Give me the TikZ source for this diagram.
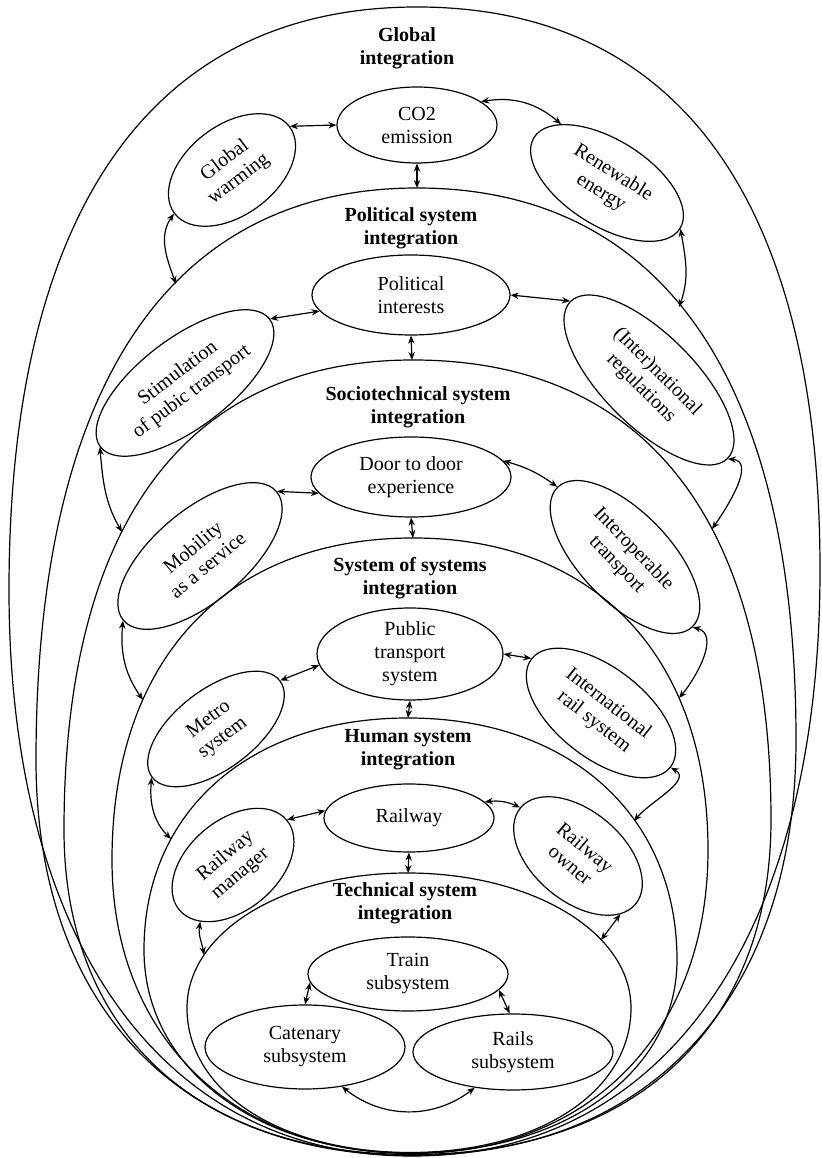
\documentclass[tikz,border=0pt]{standalone}
\usepackage{fontspec}
\setmainfont{Liberation Serif}
\usetikzlibrary{arrows.meta, shapes.geometric}

\begin{document}
\begin{tikzpicture}[x=0.5pt, y=0.5pt,
  txt/.style={font=\fontsize{10}{11.5}\selectfont, align=center},
  level/.style={font=\fontsize{10}{11.5}\selectfont\bfseries, align=center},
  blob/.style={txt, draw, ellipse, line width=0.6pt, inner sep=0pt},
  shell/.style={line width=0.6pt},
  link/.style={{Stealth[length=4pt,width=3.2pt]}-{Stealth[length=4pt,width=3.2pt]}, line width=0.6pt}]

  \useasboundingbox (0,0) rectangle (822,1158);

  % --- Nested integration levels (egg shells) ---
  \draw[shell] (417,1151) .. controls (152,1151) and (9,947) .. (9,568)
    .. controls (9,217) and (162,2) .. (412,2)
    .. controls (666,2) and (820,225) .. (820,588)
    .. controls (820,954) and (680,1151) .. (417,1151);
  \draw[shell] (417,970) .. controls (169,970) and (36,770) .. (36,398)
    .. controls (36,153) and (179,2.5) .. (412,2.5)
    .. controls (650,2.5) and (796,160) .. (796,418)
    .. controls (796,777) and (663,970) .. (417,970);
  \draw[shell] (413,798) .. controls (186,798) and (64,634) .. (64,328)
    .. controls (64,127) and (196,3.5) .. (412,3.5)
    .. controls (635,3.5) and (771,131) .. (771,338)
    .. controls (771,637) and (646,798) .. (413,798);
  \draw[shell] (413,620) .. controls (226,620) and (112,498) .. (112,298)
    .. controls (112,122) and (232,4.5) .. (412,4.5)
    .. controls (590,4.5) and (708,126) .. (708,308)
    .. controls (708,501) and (596,620) .. (413,620);
  \draw[shell] (408,440) .. controls (250,440) and (144,347) .. (144,208)
    .. controls (144,90) and (256,5) .. (411,5)
    .. controls (565,5) and (677,86) .. (677,198)
    .. controls (677,343) and (569,440) .. (408,440);
  \draw[shell] (407,285) .. controls (284,285) and (187,226) .. (187,150)
    .. controls (187,66) and (281,5.5) .. (410,5.5)
    .. controls (538,5.5) and (631,66) .. (631,150)
    .. controls (631,226) and (532,285) .. (407,285);

  % points where links meet the shells
  \coordinate (poltop) at (417,970);
  \coordinate (polL) at (176,874);
  \coordinate (polR) at (679,851);
  \coordinate (soctop) at (412,798);
  \coordinate (socL) at (122,626);
  \coordinate (socR) at (712,629);
  \coordinate (sostop) at (413,620);
  \coordinate (sosL) at (143,458);
  \coordinate (sosR) at (679,460);
  \coordinate (humtop) at (408,440);
  \coordinate (humL) at (171,319);
  \coordinate (humR) at (634,337);
  \coordinate (techtop) at (408,285);
  \coordinate (techL) at (204,203);
  \coordinate (techR) at (601,218);

  % --- Global integration ---
  \node[level] (globlab) at (407,1110) {Global\\integration};
  \node[blob, minimum width=80pt, minimum height=38pt] (co2) at (417,1033) {CO2\\emission};
  \node[blob, minimum width=72pt, minimum height=45pt, rotate=37] (warming) at (232,988) {Global\\warming};
  \node[blob, minimum width=86pt, minimum height=43pt, rotate=-32] (renew) at (607,975) {Renewable\\energy};
  \draw[link] (warming.east) -- (co2.west);
  \draw[link] (co2.20) to[bend left=25] (renew.160);
  \draw[link] (co2.south) -- (poltop);
  \draw[link] (warming.west) to[out=235, in=110] (polL);
  \draw[link] (renew.east) to[out=-80, in=70] (polR);

  % --- Political system integration ---
  \node[level] (pollab) at (411,930) {Political system\\integration};
  \node[blob, minimum width=99pt, minimum height=40pt] (polint) at (411,863) {Political\\interests};
  \node[blob, minimum width=106pt, minimum height=45pt, rotate=37] (stim) at (185,775) {Stimulation\\of pubic transport};
  \node[blob, minimum width=111pt, minimum height=46pt, rotate=-45] (regs) at (649,778) {(Inter)national\\regulations};
  \draw[link] (stim.east) -- (polint.190);
  \draw[link] (polint.east) -- (regs.west);
  \draw[link] (polint.south) -- (soctop);
  \draw[link] (stim.west) to[out=-85, in=120] (socL);
  \draw[link] (regs.east) to[out=-5, in=55] (socR);

  % --- Sociotechnical system integration ---
  \node[level] (soclab) at (418,751) {Sociotechnical system\\integration};
  \node[blob, minimum width=100pt, minimum height=40pt] (door) at (411,681) {Door to door\\experience};
  \node[blob, minimum width=100pt, minimum height=46pt, rotate=40] (maas) at (200,602) {Mobility\\as a service};
  \node[blob, minimum width=97pt, minimum height=45pt, rotate=-46] (interop) at (625,601) {Interoperable\\transport};
  \draw[link] (maas.east) -- (door.190);
  \draw[link] (door.10) to[bend left=10] (interop.west);
  \draw[link] (door.south) -- (sostop);
  \draw[link] (maas.west) to[out=-95, in=125] (sosL);
  \draw[link] (interop.east) to[out=-15, in=50] (sosR);

  % --- System of systems integration ---
  \node[level] (soslab) at (410,580) {System of systems\\integration};
  \node[blob, minimum width=93pt, minimum height=46pt] (ptrans) at (410,504) {Public\\transport\\system};
  \node[blob, minimum width=80pt, minimum height=40pt, rotate=37] (metro) at (216,429) {Metro\\system};
  \node[blob, minimum width=88pt, minimum height=45pt, rotate=-38] (intrail) at (601,445) {International\\rail system};
  \draw[link] (metro.east) -- (ptrans.187);
  \draw[link] (ptrans.east) -- (intrail.west);
  \draw[link] (ptrans.south) -- (humtop);
  \draw[link] (metro.west) to[out=-95, in=135] (humL);
  \draw[link] (intrail.east) to[out=-30, in=50] (humR);

  % --- Human system integration ---
  \node[level] (humlab) at (408,408) {Human system\\integration};
  \node[blob, minimum width=85pt, minimum height=34pt] (railway) at (409,340) {Railway};
  \node[blob, minimum width=70pt, minimum height=45pt, rotate=40] (manager) at (233,293) {Railway\\manager};
  \node[blob, minimum width=75pt, minimum height=45pt, rotate=-40] (owner) at (578,302) {Railway\\owner};
  \draw[link] (manager.east) -- (railway.175);
  \draw[link] (railway.12) to[bend left=15] (owner.west);
  \draw[link] (railway.south) -- (techtop);
  \draw[link] (manager.200) to[out=-100, in=100] (techL);
  \draw[link] (owner.346) -- (techR);

  % --- Technical system integration ---
  \node[level] (techlab) at (405,255) {Technical system\\integration};
  \node[blob, minimum width=100pt, minimum height=37pt] (train) at (408,184) {Train\\subsystem};
  \node[blob, minimum width=100pt, minimum height=42pt] (catenary) at (305,111) {Catenary\\subsystem};
  \node[blob, minimum width=100pt, minimum height=38pt] (rails) at (513,106) {Rails\\subsystem};
  \draw[link] (train.185) -- (catenary.north);
  \draw[link] (train.350) -- (rails.95);
  \draw[link] (catenary.313) to[bend right=38] (rails.223);
\end{tikzpicture}
\end{document}
